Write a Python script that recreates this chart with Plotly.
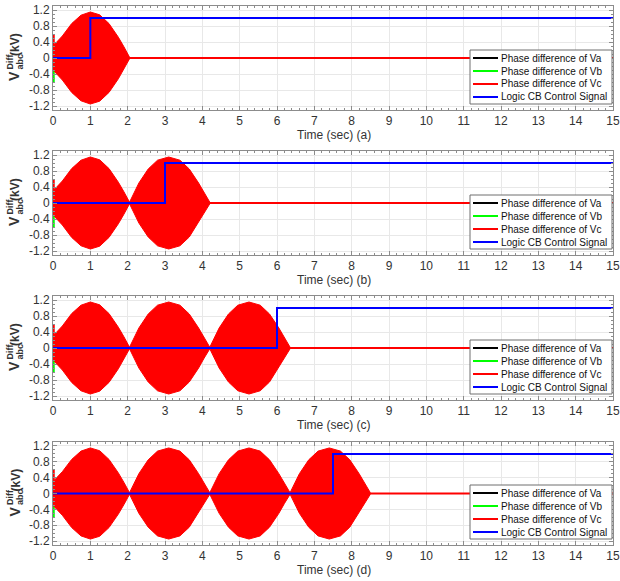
import plotly.graph_objects as go

# ---------------- data ----------------
panel_tags = ["(a)", "(b)", "(c)", "(d)"]
cb_times = [1.0, 3.0, 6.0, 7.5]          # logic CB switching time (s)
end_times = [2.05, 4.2, 6.35, 8.5]       # time where the Vc oscillation dies out (s)

# envelope of the fast phase-difference oscillation (kV)
env_t = [0.0, 0.25, 0.5, 0.75, 1.0, 1.25, 1.5, 1.75, 1.9, 2.05,
         2.3, 2.55, 2.8, 3.1, 3.4, 3.65, 3.9, 4.05, 4.2,
         4.45, 4.7, 4.95, 5.25, 5.55, 5.8, 6.05, 6.2, 6.35,
         6.6, 6.85, 7.1, 7.4, 7.7, 7.95, 8.2, 8.35, 8.5]
env_a = [0.30, 0.55, 0.86, 1.07, 1.15, 1.08, 0.86, 0.52, 0.28, 0.02,
         0.50, 0.85, 1.07, 1.15, 1.07, 0.85, 0.50, 0.25, 0.02,
         0.50, 0.85, 1.07, 1.15, 1.07, 0.85, 0.50, 0.25, 0.02,
         0.50, 0.85, 1.07, 1.15, 1.07, 0.85, 0.50, 0.25, 0.02]

# start-up transient spikes at t≈0 (kV)
spike_t = [0.02, 0.02]
spike_vc = [0.0, 0.6]
spike_vb = [0.0, -0.6]

t_span = [0.0, 15.0]
zero_line = [0.0, 0.0]
logic_levels = [0.0, 1.0]

series_names = ["Phase difference of Va", "Phase difference of Vb",
                "Phase difference of Vc", "Logic CB Control Signal"]
series_colors = ["#000000", "#00FF00", "#FF0000", "#0000FF"]

y_ticks = [-1.2, -0.8, -0.4, 0, 0.4, 0.8, 1.2]
y_ticktext = ["-1.2", "-0.8", "-0.4", "0", "0.4", "0.8", "1.2"]
x_ticks = list(range(0, 16))

# ---------------- layout geometry ----------------
W, H = 620, 581
ML, MR, MT, MB = 53, 7, 6, 36
tops_px = [6, 151, 296, 442]
bots_px = [110, 255, 400, 545]
ph = H - MT - MB
pw = W - ML - MR
FONT = "Arial, Liberation Sans, sans-serif"

def py(p):
    return 1 - (p - MT) / ph

def pxf(p):
    return (p - ML) / pw

fig = go.Figure()

axis_color = "#333333"
grid_color = "#E8E8E8"
frame_color = "#8C8C8C"

annotations = []
shapes = []
for i in range(4):
    k = "" if i == 0 else str(i + 1)
    xa, ya = "x" + k, "y" + k
    cb, te = cb_times[i], end_times[i]

    # Va, Vb (hidden below the Vc envelope)
    fig.add_trace(go.Scatter(x=t_span, y=zero_line, mode="lines", line=dict(color=series_colors[0], width=1),
                             name=series_names[0], xaxis=xa, yaxis=ya, showlegend=False))
    fig.add_trace(go.Scatter(x=t_span, y=zero_line, mode="lines", line=dict(color=series_colors[1], width=1),
                             name=series_names[1], xaxis=xa, yaxis=ya, showlegend=False))
    fig.add_trace(go.Scatter(x=spike_t, y=spike_vb, mode="lines", line=dict(color=series_colors[1], width=2),
                             showlegend=False, xaxis=xa, yaxis=ya, hoverinfo="skip"))
    # Vc envelope (filled)
    tt = [t for t in env_t if t <= te + 1e-9]
    aa = env_a[:len(tt)]
    fig.add_trace(go.Scatter(x=tt + tt[::-1], y=aa + [-a for a in aa[::-1]], mode="lines", fill="toself",
                             fillcolor=series_colors[2], line=dict(color=series_colors[2], width=1),
                             showlegend=False, xaxis=xa, yaxis=ya, hoverinfo="skip"))
    fig.add_trace(go.Scatter(x=[te, t_span[1]], y=zero_line, mode="lines", line=dict(color=series_colors[2], width=2),
                             name=series_names[2], xaxis=xa, yaxis=ya, showlegend=False))
    fig.add_trace(go.Scatter(x=spike_t, y=spike_vc, mode="lines", line=dict(color=series_colors[2], width=2),
                             showlegend=False, xaxis=xa, yaxis=ya, hoverinfo="skip"))
    # logic CB signal
    fig.add_trace(go.Scatter(x=[t_span[0], cb, cb, t_span[1]],
                             y=[logic_levels[0], logic_levels[0], logic_levels[1], logic_levels[1]],
                             mode="lines", line=dict(color=series_colors[3], width=2),
                             name=series_names[3], xaxis=xa, yaxis=ya, showlegend=False))

    y0, y1 = py(bots_px[i]), py(tops_px[i])
    fig.update_layout(**{
        ("xaxis" + k): dict(domain=[0, 1], range=[0, 15], anchor=ya, tickvals=x_ticks,
                            ticks="inside", ticklen=4, tickcolor=frame_color, mirror="ticks",
                            showline=True, linecolor=frame_color, linewidth=1,
                            showgrid=True, gridcolor=grid_color, zeroline=False,
                            ticklabeloverflow="allow", automargin=False,
                            minor=dict(ticks="inside", ticklen=2, dtick=0.2, tickcolor=frame_color, showgrid=False),
                            tickfont=dict(size=12, color=axis_color, family=FONT)),
        ("yaxis" + k): dict(domain=[y0, y1], range=[-1.3, 1.3], anchor=xa, tickvals=y_ticks,
                            ticktext=y_ticktext, automargin=False,
                            ticks="inside", ticklen=4, tickcolor=frame_color, mirror="ticks",
                            showline=True, linecolor=frame_color, linewidth=1,
                            showgrid=True, gridcolor=grid_color, zeroline=False,
                            minor=dict(ticks="inside", ticklen=2, dtick=0.1, tickcolor=frame_color, showgrid=False),
                            tickfont=dict(size=12, color=axis_color, family=FONT)),
    })

    # x-axis title
    annotations.append(dict(text="Time (sec) " + panel_tags[i], xref="paper", yref="paper",
                            x=pxf(334), y=py(bots_px[i] + 25), xanchor="center", yanchor="middle",
                            showarrow=False, font=dict(size=12, color=axis_color, family=FONT)))
    # y-axis title: V with stacked Diff / abc, then (kV)
    yc = (tops_px[i] + bots_px[i]) / 2
    ttl = [("<b>V</b>", 14, yc + 18, 14),
           ("<b>Diff</b>", 9.5, yc + 4, 9),
           ("<b>abc</b>", 19.5, yc + 4, 9),
           ("<b>(kV)</b>", 15, yc - 13, 12)]
    for txt, xp, yp, fs in ttl:
        annotations.append(dict(text=txt, xref="paper", yref="paper", x=pxf(xp), y=py(yp),
                                xanchor="center", yanchor="middle", textangle=-90, showarrow=False,
                                font=dict(size=fs, color=axis_color, family=FONT)))

    # legend box (drawn per panel)
    lb_r = W - MR - 1
    lb_l = lb_r - 142
    lb_b = bots_px[i] - 6
    lb_t = lb_b - 54
    shapes.append(dict(type="rect", xref="paper", yref="paper", x0=pxf(lb_l), x1=pxf(lb_r),
                       y0=py(lb_b), y1=py(lb_t), fillcolor="white",
                       line=dict(color="#6E6E6E", width=1), layer="above"))
    for j, (nm, col) in enumerate(zip(series_names, series_colors)):
        yy = lb_t + 8 + j * 13
        shapes.append(dict(type="line", xref="paper", yref="paper", x0=pxf(lb_l + 3), x1=pxf(lb_l + 28),
                           y0=py(yy), y1=py(yy), line=dict(color=col, width=2), layer="above"))
        annotations.append(dict(text=nm, xref="paper", yref="paper", x=pxf(lb_l + 29), y=py(yy),
                                xanchor="left", yanchor="middle", showarrow=False,
                                font=dict(size=10, color="#111111", family=FONT)))

fig.update_layout(width=W, height=H, margin=dict(l=ML, r=MR, t=MT, b=MB, autoexpand=False),
                  paper_bgcolor="white", plot_bgcolor="white",
                  annotations=annotations, shapes=shapes, showlegend=False)

fig.write_html("out.html")
